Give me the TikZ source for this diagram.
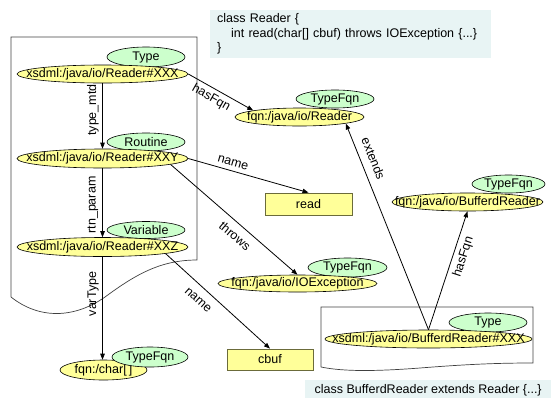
\documentclass[tikz,border=0pt]{standalone}
\usepackage{fontspec}
\setmainfont{Liberation Sans}
\usetikzlibrary{shapes.geometric, arrows.meta}
\definecolor{fqnyellow}{HTML}{FFFF99}
\definecolor{typegreen}{HTML}{CCFFCC}
\definecolor{codebg}{HTML}{E8F4F4}
\definecolor{boxedge}{HTML}{6B6B3A}
\definecolor{docedge}{HTML}{404040}

\begin{document}
\begin{tikzpicture}[x=1pt, y=1pt,
  font=\fontsize{12.5}{14.5}\selectfont,
  uri/.style={ellipse, draw=black, line width=0.6pt, fill=fqnyellow, inner sep=0pt},
  kind/.style={ellipse, draw=black, line width=0.6pt, fill=typegreen, inner sep=0pt},
  literal/.style={rectangle, draw=boxedge, line width=0.8pt, fill=fqnyellow, inner sep=0pt},
  codebox/.style={rectangle, fill=codebg, inner sep=0pt},
  docpage/.style={draw=docedge, line width=0.7pt},
  rel/.style={line width=0.8pt, -{Triangle[length=6pt,width=4.5pt]}},
  lbl/.style={inner sep=0pt, anchor=center},
]
\useasboundingbox (0,0) rectangle (551,-397);

% document pages holding the two class definitions
\draw[docpage] (11,-297) -- (11,-37) -- (197,-37) -- (197,-260)
  .. controls (160,-260) and (135,-275) .. (105,-297)
  .. controls (75,-318) and (40,-320) .. (11,-297);
\draw[docpage] (321,-367) -- (321,-307) -- (533,-307) -- (533,-363)
  .. controls (500,-363) and (470,-364) .. (420,-368)
  .. controls (380,-371) and (345,-372) .. (321,-367);

% source code snippets
\node[codebox, anchor=north west, minimum width=281pt, minimum height=48pt,
      text width=267pt, inner xsep=7pt, align=left] (codeA) at (210,-10)
  {class Reader \{\\
   \hspace*{14pt}int read(char[] cbuf) throws IOException \{...\}\\
   \}};
\node[codebox, anchor=north west, minimum width=246pt, minimum height=20pt] (codeB) at (305,-380)
  {class BufferdReader extends Reader \{...\}};

% type tags (behind their resources)
\node[kind, minimum width=78pt, minimum height=20pt] (t1) at (146,-57) {Type};
\node[kind, minimum width=78pt, minimum height=18pt] (t2) at (146,-142) {Routine};
\node[kind, minimum width=78pt, minimum height=17pt] (t3) at (146,-230) {Variable};
\node[kind, minimum width=78pt, minimum height=18pt] (tr) at (335,-99) {TypeFqn};
\node[kind, minimum width=79pt, minimum height=19pt] (te) at (347.5,-267.5) {TypeFqn};
\node[kind, minimum width=73pt, minimum height=18pt] (tb) at (508.5,-184) {TypeFqn};
\node[kind, minimum width=78pt, minimum height=19pt] (tx) at (488,-322.5) {Type};

% resources
\node[uri, minimum width=171pt, minimum height=18pt] (x1) at (102.5,-74)
  {\makebox[0pt]{xsdml:/java/io/Reader\#XXX}};
\node[uri, minimum width=171pt, minimum height=19pt] (x2) at (102.5,-158.5)
  {\makebox[0pt]{xsdml:/java/io/Reader\#XXY}};
\node[uri, minimum width=171pt, minimum height=19pt] (x3) at (102.5,-247)
  {\makebox[0pt]{xsdml:/java/io/Reader\#XXZ}};
\node[uri, minimum width=87pt, minimum height=20pt] (fc) at (103.5,-370)
  {\makebox[0pt]{fqn:/char[\,]}};
\node[uri, minimum width=129pt, minimum height=18pt] (fr) at (299.5,-117)
  {\makebox[0pt]{fqn:/java/io/Reader}};
\node[uri, minimum width=159pt, minimum height=17pt] (fe) at (297.5,-283.5)
  {\makebox[0pt]{fqn:/java/io/IOException}};
\node[uri, minimum width=151pt, minimum height=18pt] (fb) at (467.5,-202)
  {\makebox[0pt]{fqn:/java/io/BufferdReader}};
\node[uri, minimum width=207pt, minimum height=18pt] (xb) at (428.5,-339)
  {\makebox[0pt]{xsdml:/java/io/BufferdReader\#XXX}};

% tag drawn over its resource
\node[kind, minimum width=76pt, minimum height=20pt] (tc) at (150,-357) {TypeFqn};

% literals
\node[literal, minimum width=87pt, minimum height=22pt] (read) at (308.5,-204) {read};
\node[literal, minimum width=86pt, minimum height=21pt] (cbuf) at (270,-359.5) {cbuf};

% relations
\draw[rel] (x1.south) -- (x2.north);
\draw[rel] (x2.south) -- (x3.north);
\draw[rel] (x3.south) -- (x3.south |- fc.north);
\draw[rel] (x1.east) -- (fr.172);
\draw[rel] (x2.east) -- (read.north);
\draw[rel] (x2.-5.8) -- (fe.north);
\draw[rel] (x3.-6.6) -- (cbuf.north);
\draw[rel] (xb.north) -- (fr.-8.6);
\draw[rel] (xb.north) -- (fb.south);

% relation names, set along their connectors
\node[lbl, rotate=90] (lTypeMtd) at (93,-110) {type\_mtd};
\node[lbl, rotate=90] (lRtnParam) at (93,-205) {rtn\_param};
\node[lbl, rotate=90] (lVarType) at (93,-294) {varType};
\node[lbl, rotate=-29.4] (lHasFqnA) at (211,-98) {hasFqn};
\node[lbl, rotate=-16] (lNameA) at (233,-163) {name};
\node[lbl, rotate=-39.9] (lThrows) at (235,-236) {throws};
\node[lbl, rotate=-41.7] (lNameB) at (198,-300) {name};
\node[lbl, rotate=-68] (lExtends) at (373.5,-158.5) {extends};
\node[lbl, rotate=72] (lHasFqnB) at (463.5,-257) {hasFqn};
\end{tikzpicture}
\end{document}
